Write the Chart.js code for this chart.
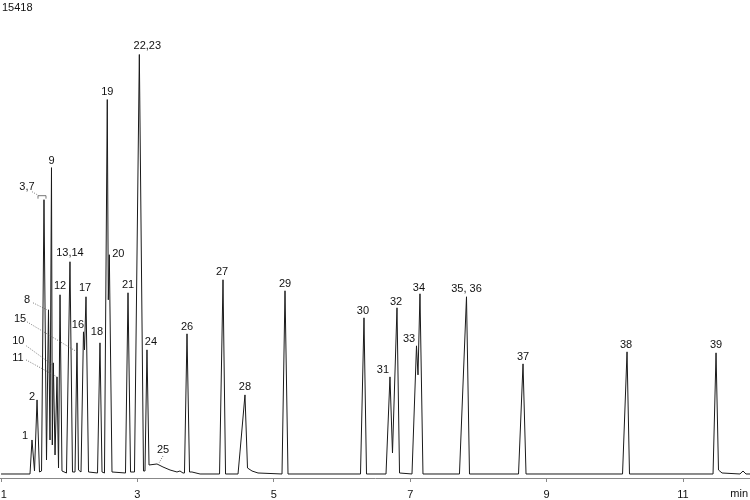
<!DOCTYPE html>
<html>
<head>
<meta charset="utf-8">
<script src="https://cdn.jsdelivr.net/npm/chart.js@4.4.0/dist/chart.umd.min.js"></script>
<style>
  html, body { margin: 0; padding: 0; background: #fff; }
</style>
</head>
<body>
<canvas id="chrom" width="750" height="500"></canvas>
<script>
// peak table: name, retention time (min), signal at apex
const peakLabels = ["1", "2", "3,7", "8", "9", "10", "11", "12", "13,14", "15", "16", "17", "18", "19", "20", "21", "22,23", "24", "25", "26", "27", "28", "29", "30", "31", "32", "33", "34", "35, 36", "37", "38", "39"]
const peakTimes = [1.454, 1.528, 1.630, 1.696, 1.740, 1.767, 1.821, 1.865, 2.011, 2.114, 2.209, 2.246, 2.451, 2.558, 2.588, 2.862, 3.028, 3.140, 3.287, 3.727, 4.255, 4.577, 5.164, 6.322, 6.703, 6.806, 7.092, 7.143, 7.825, 8.654, 10.179, 11.484]
const peakHeights = [1156, 2516, 9316, 5576, 10404, 3774, 3298, 6086, 7208, 4454, 4828, 6018, 4454, 12716, 7446, 6154, 14246, 4216, 340, 4760, 6596, 2686, 6222, 5304, 3298, 5644, 4352, 6120, 6018, 3740, 4148, 4114]

// baseline and valley points of the trace between apexes
const valleyTimes = [1.000, 1.425, 1.491, 1.564, 1.594, 1.667, 1.718, 1.752, 1.792, 1.843, 1.894, 1.960, 2.048, 2.085, 2.136, 2.173, 2.224, 2.283, 2.415, 2.481, 2.517, 2.573, 2.627, 2.825, 2.899, 2.957, 3.089, 3.111, 3.170, 3.375, 3.478, 3.580, 3.624, 3.668, 3.690, 3.764, 3.800, 3.918, 4.204, 4.292, 4.475, 4.504, 4.614, 4.680, 4.768, 5.120, 5.208, 6.271, 6.359, 6.645, 6.740, 6.843, 7.026, 7.114, 7.187, 7.722, 7.869, 8.588, 8.698, 10.113, 10.215, 11.440, 11.520, 11.572, 11.835, 11.879, 11.923, 11.982]
const valleySignals = [0, 0, 102, 68, 102, 476, 1156, 986, 646, 204, 102, 34, 68, 68, 136, 68, 4216, 68, 34, 68, 34, 5916, 68, 34, 68, 68, 102, 102, 306, 238, 136, 68, 102, 34, 34, 68, 68, 0, 0, 0, 0, 748, 204, 102, 34, 0, 0, 0, 0, 0, 714, 34, 0, 3366, 0, 0, 0, 0, 0, 0, 0, 0, 136, 34, 0, 102, 0, 0]

const tickValues = [1, 3, 5, 7, 9, 11]
const tickLabels = ["1", "3", "5", "7", "9", "11"]
const fullScale = 15418
const axisUnit = "min"

// label placement relative to the apex (pixels), leaders and the 3,7 bracket
const labelNudge = {
  "1": { dx: -7, dy: -4 },
  "2": { dx: -5, dy: -3 },
  "3,7": { dx: -17, dy: -13, bracket: true },
  "8": { dx: -21.5, dy: -10, lead: [6, 3, -1.5, 0] },
  "9": { dx: 0, dy: -7 },
  "10": { dx: -35, dy: -22, lead: [8, 5, -1, 2] },
  "11": { dx: -39, dy: -19, lead: [8, 2, 0, 0] },
  "12": { dx: 0, dy: -9 },
  "13,14": { dx: 0, dy: -9 },
  "15": { dx: -57, dy: -24, lead: [7, 3, 0, 9] },
  "16": { dx: -5.5, dy: -7 },
  "17": { dx: -1, dy: -9 },
  "18": { dx: -3, dy: -11 },
  "20": { dx: 9, dy: -1 },
  "22,23": { dx: 8, dy: -9 },
  "24": { dx: 4, dy: -8 },
  "25": { dx: 6, dy: -14, lead: [0, 6, 2, -1] },
  "26": { dx: 0, dy: -7 },
  "27": { dx: -1, dy: -8 },
  "29": { dx: 0, dy: -7 },
  "30": { dx: -1, dy: -7 },
  "31": { dx: -7, dy: -7 },
  "32": { dx: -1, dy: -6 },
  "33": { dx: -7.5, dy: -7 },
  "34": { dx: -1, dy: -6 },
  "37": { dx: 0, dy: -7 },
  "38": { dx: -1, dy: -7 },
}

// merge apexes and valleys into one trace
const trace = peakTimes.map((t, i) => ({ x: t, y: peakHeights[i] }))
  .concat(valleyTimes.map((t, i) => ({ x: t, y: valleySignals[i] })))
  .sort((a, b) => a.x - b.x)

const font = '"Liberation Sans", Arial, sans-serif'

const peakMarks = {
  id: "peakMarks",
  afterDatasetsDraw(chart) {
    const { ctx, scales: { x, y } } = chart
    ctx.save()
    ctx.font = `11px ${font}`
    ctx.fillStyle = "#111"
    ctx.textAlign = "center"
    ctx.textBaseline = "middle"
    ctx.strokeStyle = "#555"
    ctx.lineWidth = 0.8
    peakLabels.forEach((name, i) => {
      const px = x.getPixelForValue(peakTimes[i])
      const py = y.getPixelForValue(peakHeights[i])
      const n = labelNudge[name] || {}
      const lx = px + (n.dx ?? 0)
      const ly = py + (n.dy ?? -8)
      ctx.fillText(name, lx, ly)
      if (n.lead) {
        ctx.setLineDash([1, 1.5])
        ctx.beginPath()
        ctx.moveTo(lx + n.lead[0], ly + n.lead[1])
        ctx.lineTo(px + n.lead[2], py + n.lead[3])
        ctx.stroke()
      }
      if (n.bracket) {
        ctx.setLineDash([1, 1.5])
        ctx.beginPath()
        ctx.moveTo(lx + 5, ly + 5)
        ctx.lineTo(px - 6, py - 4.5)
        ctx.stroke()
        ctx.setLineDash([])
        ctx.beginPath()
        ctx.moveTo(px - 6, py - 1)
        ctx.lineTo(px - 6, py - 4)
        ctx.lineTo(px + 2, py - 4)
        ctx.lineTo(px + 2, py - 1)
        ctx.stroke()
      }
    })
    ctx.setLineDash([])
    // full scale value and axis unit
    ctx.textAlign = "left"
    ctx.fillText(String(fullScale), 2, 8)
    ctx.textAlign = "right"
    ctx.textBaseline = "top"
    ctx.fillText(axisUnit, chart.chartArea.right - 2, chart.chartArea.bottom + 10)
    ctx.restore()
  }
}

window.onload = function () {
  const ctx = document.getElementById("chrom").getContext("2d")
  new Chart(ctx, {
    type: "line",
    data: {
      datasets: [{
        data: trace,
        borderColor: "#1a1a1a",
        borderWidth: 1,
        pointRadius: 0,
        tension: 0,
        fill: false,
      }],
    },
    options: {
      responsive: false,
      animation: false,
      devicePixelRatio: 1,
      layout: { padding: { top: 20, left: 0, right: 0, bottom: 0 } },
      plugins: { legend: { display: false }, tooltip: { enabled: false } },
      scales: {
        x: {
          type: "linear",
          min: 0.985,
          max: 11.982,
          afterBuildTicks: (scale) => { scale.ticks = tickValues.map((v) => ({ value: v })) },
          afterFit: (scale) => { scale.paddingLeft = 0; scale.paddingRight = 0; scale.height = 22 },
          ticks: {
            // first label sits at the very edge, pad it so it isn't cut off
            callback: (v) => {
              const i = tickValues.indexOf(v)
              return i === 0 ? "\u2002" + tickLabels[i] : (tickLabels[i] ?? "")
            },
            font: { family: font, size: 11 },
            color: "#111",
            padding: 6,
            maxRotation: 0,
            autoSkip: false,
          },
          grid: { drawOnChartArea: false, tickLength: 4, color: "#888" },
          border: { color: "#888" },
        },
        y: { display: false, min: -136, max: fullScale },
      },
    },
    plugins: [peakMarks],
  })
}
</script>
</body>
</html>
